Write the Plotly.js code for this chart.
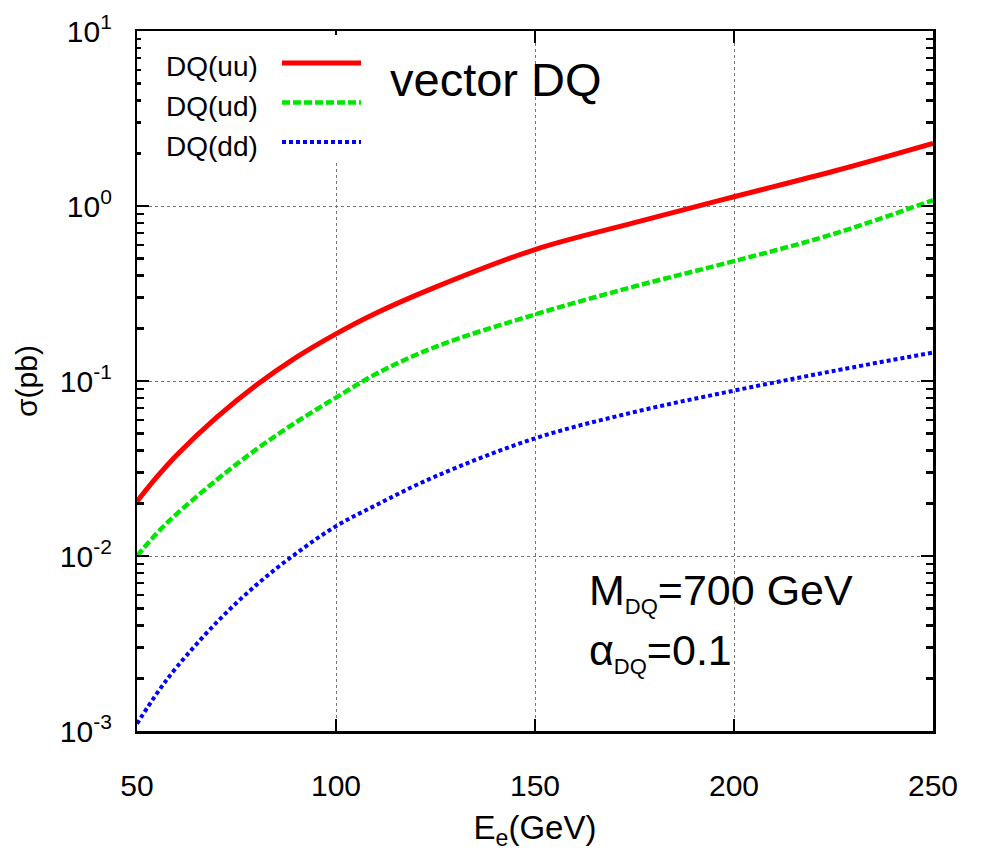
<!DOCTYPE html>
<html>
<head>
<meta charset="utf-8">
<script src="https://cdn.plot.ly/plotly-3.0.1.min.js"></script>
<style>html,body{margin:0;padding:0;background:#fff;}#chart{width:981px;height:851px;}</style>
</head>
<body>
<div id="chart"></div>
<script>
// Beam energy E_e (GeV)
const energy = [50, 55, 60, 70, 80, 90, 100, 110, 125, 150, 175, 200, 225, 250];
// Cross sections sigma (pb)
const sigmaUU = [0.0205, 0.0283, 0.0378, 0.0619, 0.0948, 0.1365, 0.186, 0.244, 0.344, 0.564, 0.803, 1.13, 1.58, 2.28];
const sigmaUD = [0.010, 0.0135, 0.0174, 0.0272, 0.0407, 0.0582, 0.0804, 0.1096, 0.1567, 0.240, 0.347, 0.484, 0.692, 1.08];
const sigmaDD = [0.0011, 0.00164, 0.00232, 0.00417, 0.00684, 0.01035, 0.0148, 0.0195, 0.0285, 0.047, 0.0665, 0.0881, 0.1141, 0.1455];
const seriesNames = ["DQ(uu)", "DQ(ud)", "DQ(dd)"];
const xTicks = [50, 100, 150, 200, 250];
const yTickVals = [0.001, 0.01, 0.1, 1, 10];
const yTickText = ["10<sup>-3</sup>", "10<sup>-2</sup>", "10<sup>-1</sup>", "10<sup>0</sup>", "10<sup>1</sup>"];

const colors = ["#ff0000", "#00e600", "#0000ff"];
const dashes = ["solid", "8px,3px", "4px,3px"];
const widths = [5, 4.5, 4];
const allY = [sigmaUU, sigmaUD, sigmaDD];

const traces = allY.map((ys, i) => ({
  x: energy, y: ys, name: seriesNames[i], type: "scatter", mode: "lines",
  line: {color: colors[i], width: widths[i], dash: dashes[i], shape: "spline", smoothing: 1},
  showlegend: false, hoverinfo: "skip"
}));

const minorVals = [];
[0.001, 0.01, 0.1, 1].forEach(d => { for (let k = 2; k <= 9; k++) minorVals.push(d * k); });

const FONT = "Liberation Sans, Arial, sans-serif";
const L = 137, R = 933, T = 31, B = 731;
const px = v => (v - L) / (R - L);
const py = v => (B - v) / (B - T);

const shapes = [
  {type: "rect", xref: "paper", yref: "paper", x0: px(141), x1: px(372), y0: py(160), y1: py(35),
   fillcolor: "#fff", line: {width: 0}, layer: "above"}
];
const legendY = [63, 102.5, 142];
const annotations = [];
legendY.forEach((yy, i) => {
  shapes.push({type: "line", xref: "paper", yref: "paper", x0: px(282), x1: px(361), y0: py(yy), y1: py(yy),
    line: {color: colors[i], width: widths[i], dash: dashes[i]}, layer: "above"});
  annotations.push({xref: "paper", yref: "paper", x: px(164), y: py(yy + 4), xanchor: "left", yanchor: "middle",
    text: seriesNames[i], showarrow: false, font: {family: FONT, size: 28, color: "#000"}});
});
annotations.push({xref: "paper", yref: "paper", x: px(388), y: py(80), xanchor: "left", yanchor: "middle",
  text: "vector DQ", showarrow: false, font: {family: FONT, size: 47, color: "#000"}});
annotations.push({xref: "paper", yref: "paper", x: px(587), y: py(592), xanchor: "left", yanchor: "middle",
  text: "M<sub><span style='font-size:22px'>DQ</span></sub>=700 GeV", showarrow: false,
  font: {family: FONT, size: 43, color: "#000"}});
annotations.push({xref: "paper", yref: "paper", x: px(587), y: py(652), xanchor: "left", yanchor: "middle",
  text: "α<sub><span style='font-size:22px'>DQ</span></sub>=0.1", showarrow: false,
  font: {family: FONT, size: 43, color: "#000"}});

const layout = {
  width: 981, height: 851,
  margin: {l: L, r: 981 - R, t: T, b: 851 - B, pad: 0},
  paper_bgcolor: "#fff", plot_bgcolor: "#fff",
  font: {family: FONT, color: "#000"},
  showlegend: false,
  xaxis: {
    range: [50, 250], tickvals: xTicks, ticktext: xTicks.map(String),
    ticks: "inside", ticklen: 12, tickwidth: 2.5, tickcolor: "#000",
    showline: true, linecolor: "#000", linewidth: 2.5, mirror: "ticks",
    showgrid: true, gridcolor: "#777", griddash: "dot", gridwidth: 1,
    zeroline: false, ticklabelstandoff: 26,
    tickfont: {family: FONT, size: 30, color: "#000"},
    title: {text: "E<sub>e</sub>(GeV)", font: {family: FONT, size: 33, color: "#000"}, standoff: 20}
  },
  yaxis: {
    type: "log", range: [-3, 1], tickmode: "array", tickvals: yTickVals,
    ticktext: yTickText.map(t => t + "\u00a0\u00a0"),
    ticks: "inside", ticklen: 12, tickwidth: 2.5, tickcolor: "#000",
    showline: true, linecolor: "#000", linewidth: 2.5, mirror: "ticks",
    showgrid: true, gridcolor: "#777", griddash: "dot", gridwidth: 1,
    zeroline: false,
    tickfont: {family: FONT, size: 30, color: "#000"},
    minor: {tickmode: "array", tickvals: minorVals, ticks: "inside", ticklen: 7, tickwidth: 2.5, tickcolor: "#000", showgrid: false},
    title: {text: "σ(pb)", font: {family: FONT, size: 30, color: "#000"}, standoff: 14}
  },
  shapes: shapes,
  annotations: annotations
};

Plotly.newPlot("chart", traces, layout, {displayModeBar: false, staticPlot: true});
</script>
</body>
</html>
